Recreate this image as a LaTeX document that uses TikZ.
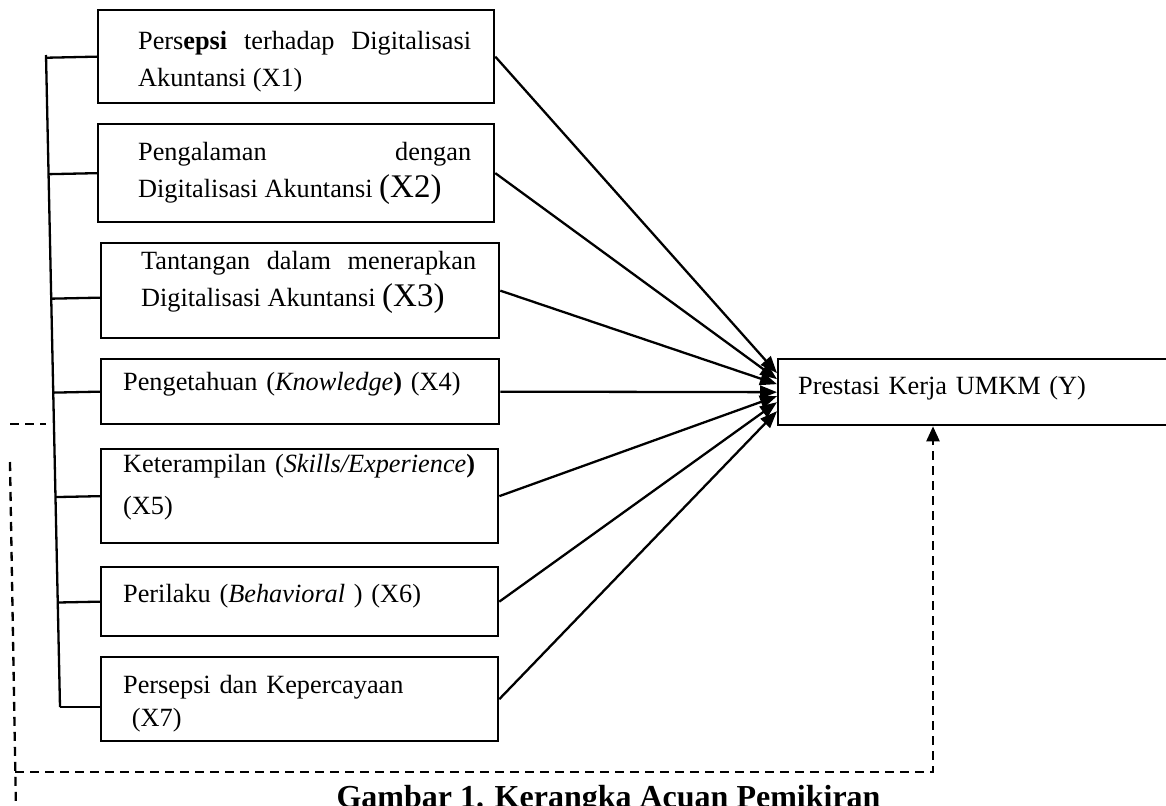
\documentclass[tikz,border=0pt]{standalone}
\usepackage{fontspec}
\setmainfont{Liberation Serif}
\usetikzlibrary{arrows.meta,calc}

\begin{document}
\begin{tikzpicture}[
  x=1pt, y=-1pt,
  font=\fontsize{26.3}{37}\selectfont,
  box/.style={draw, line width=2.3pt, anchor=north west, inner sep=0pt},
  inset/.style 2 args={execute at begin node={\leftskip=#1\rightskip=#2\relax}},
  link/.style={line width=2.3pt},
  arr/.style={line width=2.3pt, -{Triangle[length=17pt,width=13pt]}},
  fb/.style={line width=2.3pt, dash pattern=on 9pt off 6pt}
]
\useasboundingbox (0,0) rectangle (1166,805);
\clip (0,0) rectangle (1166,805);

% variabel bebas (X1 ... X7)
\node[box, inset={40pt}{23pt}, align=justify, text width=396pt,
      text height=39pt, text depth=54pt] (x1) at (97,9)
  {Pers\textbf{epsi} terhadap Digitalisasi\linebreak Akuntansi (X1)};
\node[box, inset={40pt}{23pt}, align=justify, text width=396pt,
      text height=36pt, text depth=62pt] (x2) at (97,123)
  {Pengalaman dengan\linebreak Digitalisasi Akuntansi {\fontsize{33}{37}\selectfont(X2)}};
\node[box, inset={40pt}{23pt}, align=justify, text width=398pt,
      text height=26pt, text depth=69pt] (x3) at (100,242)
  {Tantangan dalam menerapkan\linebreak Digitalisasi Akuntansi {\fontsize{33}{37}\selectfont(X3)}};
\node[box, inset={22pt}{0pt}, align=left, text width=398pt,
      text height=31pt, text depth=34pt] (x4) at (100,358)
  {Pengetahuan (\textit{Knowledge}\textbf{)} (X4)};
\node[box, inset={22pt}{0pt}, align=left, text width=397pt,
      text height=23pt, text depth=71pt] (x5) at (100,448)
  {Keterampilan (\textit{Skills/Experience}\textbf{)}\\[5pt](X5)};
\node[box, inset={22pt}{0pt}, align=left, text width=397pt,
      text height=35pt, text depth=34pt] (x6) at (100,566)
  {Perilaku (\textit{Behavioral} ) (X6)};
\node[box, inset={22pt}{0pt}, align=left, text width=397pt,
      text height=36pt, text depth=48pt] (x7) at (100,656)
  {Persepsi dan Kepercayaan\\[-4pt]~(X7)};

% variabel terikat
\node[box, inset={20pt}{0pt}, align=left, text width=420pt,
      text height=35pt, text depth=31pt] (y) at (777,358)
  {Prestasi Kerja UMKM (Y)};

% kurung kiri
\coordinate (bt) at (46,55);
\coordinate (bb) at (60,707);
\draw[link] (bt) -- (bb);
\draw[link] (x1.west) -- ($(bt)!(x1.west)!(bb)$);
\draw[link] (x2.west) -- ($(bt)!(x2.west)!(bb)$);
\draw[link] ([yshift=-7pt]x3.west) -- ($(bt)!([yshift=-7pt]x3.west)!(bb)$);
\draw[link] (x4.west) -- ($(bt)!(x4.west)!(bb)$);
\draw[link] (x5.west) -- ($(bt)!(x5.west)!(bb)$);
\draw[link] (x6.west) -- ($(bt)!(x6.west)!(bb)$);
\draw[link] (bb) -- (bb -| x7.west);

% panah ke Y
\draw[arr] (x1.east) -- ([yshift=19pt]y.west);
\draw[arr] (x2.east) -- ([yshift=13pt]y.west);
\draw[arr] (x3.east) -- ([yshift=8pt]y.west);
\draw[arr] (x4.east) -- (y.west);
\draw[arr] (x5.east) -- ([yshift=-4pt]y.west);
\draw[arr] (x6.east) -- ([yshift=-10pt]y.west);
\draw[arr] (x7.east) -- ([yshift=-19pt]y.west);

% garis putus-putus
\coordinate (ga) at (10,424);
\coordinate (gb) at (46,424);
\draw[fb] (ga) -- (gb);
\coordinate (fa) at (10,462);
\coordinate (fz) at (16,812);
\draw[fb] (fa) -- (fz);
\coordinate (fc) at (15,772);
\coordinate (fd) at (933,772);
\draw[fb, -{Triangle[length=15pt,width=13pt]}] (fc) -- (fd) -- (fd |- y.south);

\node[font=\bfseries\fontsize{32}{38}\selectfont, anchor=base west] (cap) at (333,807)
  {Gambar 1. Kerangka Acuan Pemikiran};
\end{tikzpicture}
\end{document}
